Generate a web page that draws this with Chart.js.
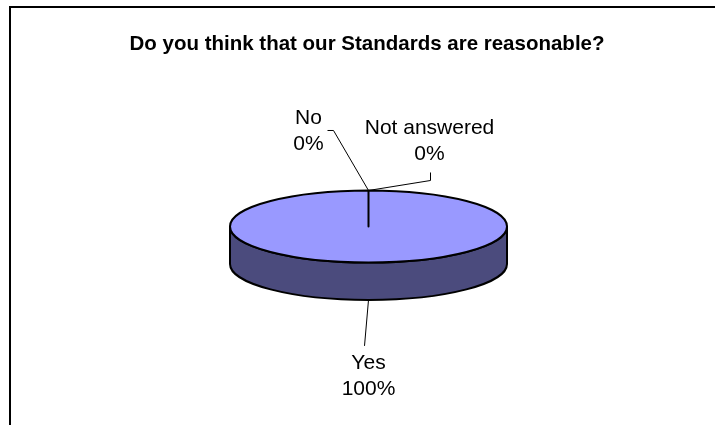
<!DOCTYPE html>
<html>
<head>
<meta charset="utf-8">
<script src="https://cdn.jsdelivr.net/npm/chart.js@4"></script>
<style>
  html, body { margin: 0; padding: 0; background: #fff; }
  #wrap { width: 715px; height: 425px; }
</style>
</head>
<body>
<div id="wrap"><canvas id="pieChart" width="715" height="425"></canvas></div>
<script>
// Chart data
const chartTitle = "Do you think that our Standards are reasonable?";
const answers = ["Yes", "No", "Not answered"];
const percentages = [100, 0, 0];

const topColors = ["#9999FF", "#993366", "#FFFFCC"];
const sideColors = ["#4b4b7d", "#4b1932", "#7d7d64"];

// where each label sits relative to its anchor point on the pie edge
const labelPlacement = [
    { text: [0, 63], leader: [[-4, 46]] },
    { text: [-60, -72], leader: [[-35, -60], [-41, -60]] },
    { text: [61, -62], leader: [[62, -10], [62, -18]] }
];

const TILT = 0.26;   // vertical squash of the pie top
const DEPTH = 0.27;  // side height as fraction of radius
const FONT = '"Liberation Sans", Arial, sans-serif';

function frontRanges(s, e) {
    // parts of [s, e] that lie on the front (lower) half of the ellipse
    const out = [];
    for (let k = -1; k <= 2; k++) {
        const a = Math.max(s, 2 * Math.PI * k);
        const b = Math.min(e, 2 * Math.PI * k + Math.PI);
        if (b > a) out.push([a, b]);
    }
    return out;
}

const pie3d = {
    id: "pie3d",
    beforeDraw(chart) {
        const ctx = chart.ctx;
        ctx.save();
        ctx.fillStyle = "#000";
        ctx.fillRect(9, 6, 706, 2);
        ctx.fillRect(9, 6, 2, 419);
        ctx.font = "bold 20.5px " + FONT;
        ctx.textAlign = "center";
        ctx.textBaseline = "middle";
        ctx.fillText(chartTitle, 367, 44);
        ctx.restore();
    },
    beforeDatasetsDraw(chart) {
        const ctx = chart.ctx;
        const arcs = chart.getDatasetMeta(0).data;
        const cx = arcs[0].x, cy = arcs[0].y;
        const rx = arcs[0].outerRadius, ry = rx * TILT, depth = rx * DEPTH;
        ctx.save();
        ctx.lineWidth = 2;
        ctx.strokeStyle = "#000";
        ctx.lineJoin = "round";

        // side walls
        arcs.forEach((arc, i) => {
            frontRanges(arc.startAngle, arc.endAngle).forEach(([a, b]) => {
                ctx.beginPath();
                ctx.ellipse(cx, cy, rx, ry, 0, a, b);
                ctx.lineTo(cx + rx * Math.cos(b), cy + depth + ry * Math.sin(b));
                ctx.ellipse(cx, cy + depth, rx, ry, 0, b, a, true);
                ctx.closePath();
                ctx.fillStyle = sideColors[i];
                ctx.fill();
                ctx.stroke();
            });
        });

        // top faces
        arcs.forEach((arc, i) => {
            if (arc.endAngle - arc.startAngle <= 0) return;
            ctx.beginPath();
            ctx.moveTo(cx, cy);
            ctx.ellipse(cx, cy, rx, ry, 0, arc.startAngle, arc.endAngle);
            ctx.closePath();
            ctx.fillStyle = topColors[i];
            ctx.fill();
            ctx.stroke();
        });

        // labels with leader lines
        ctx.lineWidth = 1;
        ctx.fillStyle = "#000";
        ctx.font = "21px " + FONT;
        ctx.textAlign = "center";
        ctx.textBaseline = "middle";
        arcs.forEach((arc, i) => {
            const m = (arc.startAngle + arc.endAngle) / 2;
            const front = Math.sin(m) > 0;
            const ax = cx + rx * Math.cos(m);
            const ay = cy + ry * Math.sin(m) + (front ? depth : 0);
            const p = labelPlacement[i];
            ctx.beginPath();
            ctx.moveTo(ax, ay);
            p.leader.forEach(([dx, dy]) => ctx.lineTo(ax + dx, ay + dy));
            ctx.stroke();
            const tx = ax + p.text[0], ty = ay + p.text[1];
            ctx.fillText(answers[i], tx, ty);
            ctx.fillText(percentages[i] + "%", tx, ty + 26);
        });

        ctx.restore();
        return false;
    }
};

new Chart(document.getElementById("pieChart"), {
    type: "pie",
    data: {
        labels: answers,
        datasets: [{
            data: percentages,
            backgroundColor: topColors,
            borderWidth: 0
        }]
    },
    options: {
        responsive: false,
        animation: false,
        events: [],
        layout: {
            padding: { left: 230, right: 208, top: 88, bottom: 60 }
        },
        plugins: {
            legend: { display: false },
            title: { display: false },
            tooltip: { enabled: false }
        }
    },
    plugins: [pie3d]
});
</script>
</body>
</html>
